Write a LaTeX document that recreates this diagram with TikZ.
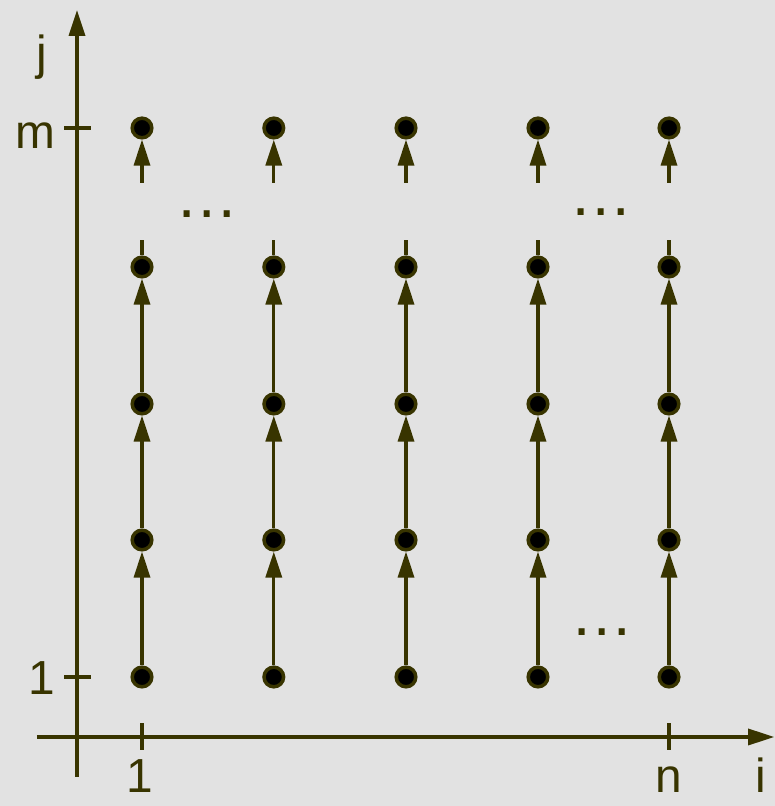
\documentclass[tikz,border=0pt]{standalone}
\usepackage{fontspec}
\setmainfont{Liberation Sans}
\usetikzlibrary{arrows.meta}
\definecolor{axisolive}{RGB}{56,52,0}
\definecolor{paper}{RGB}{226,226,226}

\begin{document}
\begin{tikzpicture}[>={Triangle[length=6.5mm, width=4mm]}, line width=2.4pt,
  draw=axisolive, text=axisolive, font=\fontsize{34}{40}\selectfont,
  dot/.style={circle, draw=axisolive, fill=black, line width=2.5pt, minimum size=4.9mm, inner sep=0pt},
  lab/.style={anchor=base, inner sep=0pt},
  dots/.style={anchor=base, inner sep=0pt, font=\fontsize{45}{50}\selectfont}]

% =================================================================================
% paper
% =================================================================================
\fill[paper] (-1.925,-1.725) rectangle (17.45,18.425);
\useasboundingbox (-1.925,-1.725) rectangle (17.45,18.425);

% =================================================================================
% axes and ticks
% =================================================================================
\coordinate (ybot) at (0,-1.0);
\coordinate (ytop) at (0,18.175);
\coordinate (xleft) at (-1.0,0);
\coordinate (xright) at (17.43,0);
\draw[->] (ybot) -- (ytop);
\draw[->] (xleft) -- (xright);

\draw (-0.325,1.5) -- (0.35,1.5);
\draw (-0.325,15.225) -- (0.35,15.225);
\draw (1.625,-0.325) -- (1.625,0.35);
\draw (14.8,-0.325) -- (14.8,0.35);

\node[lab] (lj)  at (-0.875,16.675) {j};
\node[lab] (lm)  at (-1.05,14.7)    {m};
\node[lab] (l1y) at (-0.875,1.05)   {1};
\node[lab] (l1x) at (1.575,-1.4)    {1};
\node[lab] (ln)  at (14.8,-1.4)     {n};
\node[lab] (li)  at (17.1,-1.4)     {i};

% =================================================================================
% the grid of points, one column at a time
% =================================================================================
\foreach \c/\x in {1/1.625, 2/4.92, 3/8.225, 4/11.525, 5/14.8} {
  \foreach \r/\y in {1/1.5, 2/4.925, 3/8.325, 4/11.75, 5/15.225}
    \node[dot] (p-\c-\r) at (\x,\y) {};
  \foreach \r [count=\s from 2] in {1,2,3}
    \draw[->] (p-\c-\r) -- (p-\c-\s);
  \coordinate (s-\c) at (\x,12.425);
  \coordinate (t-\c) at (\x,13.85);
  \draw (p-\c-4) -- (s-\c);
  \draw[->] (t-\c) -- (p-\c-5);
}

% =================================================================================
% the gaps
% =================================================================================
\node[dots] (g1) at (3.25,12.975)  {…};
\node[dots] (g2) at (13.1,13.025)  {…};
\node[dots] (g3) at (13.125,2.525) {…};

\end{tikzpicture}
\end{document}
